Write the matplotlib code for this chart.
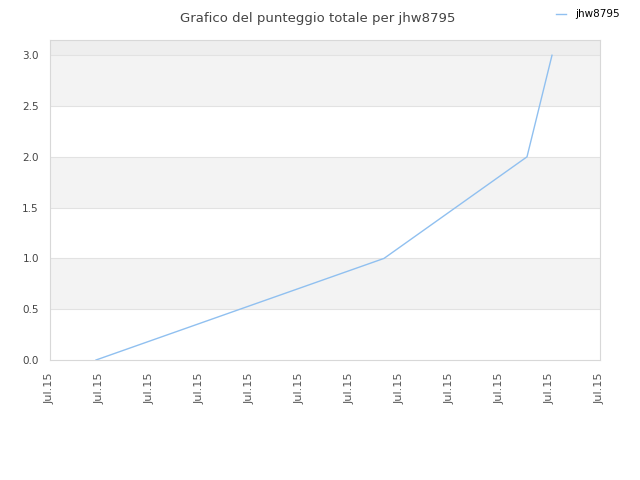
import matplotlib.pyplot as plt

# -------------------------------------------------
# Data
# -------------------------------------------------
player = 'jhw8795'
x_pos = [0.92, 6.68, 9.54, 10.04]      # position along the time axis (tick units)
score = [0, 1, 2, 3]
tick_pos = list(range(12))
tick_labels = ['Jul.15'] * 12
y_ticks = [0.0, 0.5, 1.0, 1.5, 2.0, 2.5, 3.0]

# -------------------------------------------------
# Plot
# -------------------------------------------------
fig = plt.figure(figsize=(6.4, 4.8), dpi=100)
ax = fig.add_axes([50 / 640, 120 / 480, 550 / 640, 320 / 480])

y_top = 3.15
ax.set_xlim(0, 11)
ax.set_ylim(0, y_top)

# alternating bands
for lo in [0.5, 1.5, 2.5]:
    ax.axhspan(lo, lo + 0.5, color='#f3f3f3', zorder=0, lw=0)
ax.axhspan(3.0, y_top, color='#eeeeee', zorder=0, lw=0)
for y in y_ticks[1:]:
    ax.axhline(y, color='#e2e2e2', lw=0.8, zorder=1)

ax.plot(x_pos, score, color='#90c0f0', lw=1, label=player, zorder=3)

ax.set_xticks(tick_pos)
ax.set_xticklabels(tick_labels, rotation=90, fontsize=8.1, color='#555555')
ax.set_yticks(y_ticks)
ax.set_yticklabels([f'{v:.1f}' for v in y_ticks], fontsize=7.5, color='#444444')
ax.tick_params(axis='x', length=0, pad=9)
ax.tick_params(axis='y', length=0, pad=8)

for s in ax.spines.values():
    s.set_color('#d8d8d8')
    s.set_linewidth(0.8)

fig.text(0.497, 0.975, 'Grafico del punteggio totale per ' + player,
         ha='center', va='top', fontsize=9.5, color='#444444')
fig.legend(loc='upper right', bbox_to_anchor=(0.983, 1.0), frameon=False,
           fontsize=7.5, handlelength=0.9, handletextpad=0.9)

plt.savefig('out.png', dpi=100)
